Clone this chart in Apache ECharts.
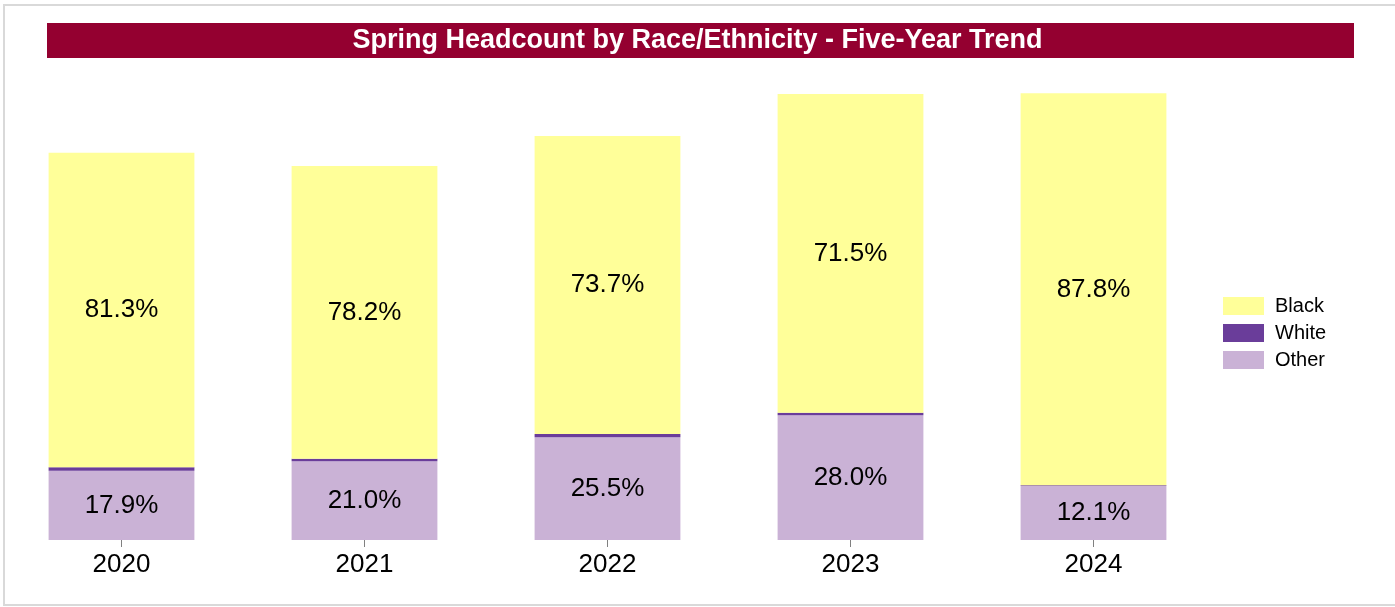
<!DOCTYPE html>
<html>
<head>
    <meta charset="utf-8">
    <title>Spring Headcount by Race/Ethnicity</title>
    <script src="https://cdn.jsdelivr.net/npm/echarts@6/dist/echarts.min.js"></script>
    <style>
        html, body { margin: 0; padding: 0; background: #fff; }
        #root { width: 1395px; height: 607px; }
    </style>
</head>
<body>
<div id="root"></div>
<script type="text/javascript">
// headcounts, percent labels as printed
var years = ['2020', '2021', '2022', '2023', '2024'];
var otherCount = [104, 118, 154, 187, 81];
var whiteCount = [5, 4, 5, 4, 1];
var blackCount = [472, 439, 447, 478, 588];
var blackPct = ['81.3%', '78.2%', '73.7%', '71.5%', '87.8%'];
var otherPct = ['17.9%', '21.0%', '25.5%', '28.0%', '12.1%'];

var myChart = echarts.init(document.getElementById('root'));
var font = 'Liberation Sans, Arial, sans-serif';

option = {
    animation: false,
    color: ['#FFFF99', '#6A3D9A', '#CAB2D6'],
    graphic: [{
        type: 'rect',
        shape: { x: 4, y: 5, width: 1400, height: 600 },
        style: { fill: 'none', stroke: '#d9d9d9', lineWidth: 2 },
        z: 0
    }, {
        type: 'rect',
        shape: { x: 47, y: 23, width: 1307, height: 35 },
        style: { fill: '#940030' },
        z: 1
    }, {
        type: 'text',
        left: 'center',
        top: 27,
        style: {
            text: 'Spring Headcount by Race/Ethnicity - Five-Year Trend',
            fill: '#fff',
            font: 'bold 27px ' + font
        },
        z: 2
    }],
    legend: {
        orient: 'vertical',
        left: 1218,
        top: 291,
        itemWidth: 41,
        itemHeight: 18,
        itemGap: 7,
        icon: 'rect',
        data: ['Black', 'White', 'Other'],
        textStyle: { fontFamily: font, fontSize: 20, color: '#000', padding: [0, 0, 0, 6] }
    },
    grid: { left: -2, width: 1217, top: 60, bottom: 67, containLabel: false },
    xAxis: {
        type: 'category',
        data: years,
        axisLine: { show: false },
        axisTick: { show: true, alignWithLabel: true, length: 7, lineStyle: { color: '#808080' } },
        axisLabel: { fontFamily: font, fontSize: 26, color: '#000', margin: 12 }
    },
    yAxis: {
        type: 'value',
        min: 0,
        max: 720,
        show: false,
        splitLine: { show: false }
    },
    series: [{
        name: 'Other',
        type: 'bar',
        stack: 'total',
        barWidth: '60%',
        itemStyle: { color: '#CAB2D6' },
        label: {
            show: true,
            position: 'inside',
            fontFamily: font,
            fontSize: 26,
            color: '#000',
            formatter: function(p) { return otherPct[p.dataIndex]; }
        },
        data: otherCount
    }, {
        name: 'White',
        type: 'bar',
        stack: 'total',
        itemStyle: { color: '#6A3D9A' },
        data: whiteCount
    }, {
        name: 'Black',
        type: 'bar',
        stack: 'total',
        itemStyle: { color: '#FFFF99' },
        label: {
            show: true,
            position: 'inside',
            fontFamily: font,
            fontSize: 26,
            color: '#000',
            formatter: function(p) { return blackPct[p.dataIndex]; }
        },
        data: blackCount
    }]
};
myChart.setOption(option, true);
</script>
</body>
</html>
